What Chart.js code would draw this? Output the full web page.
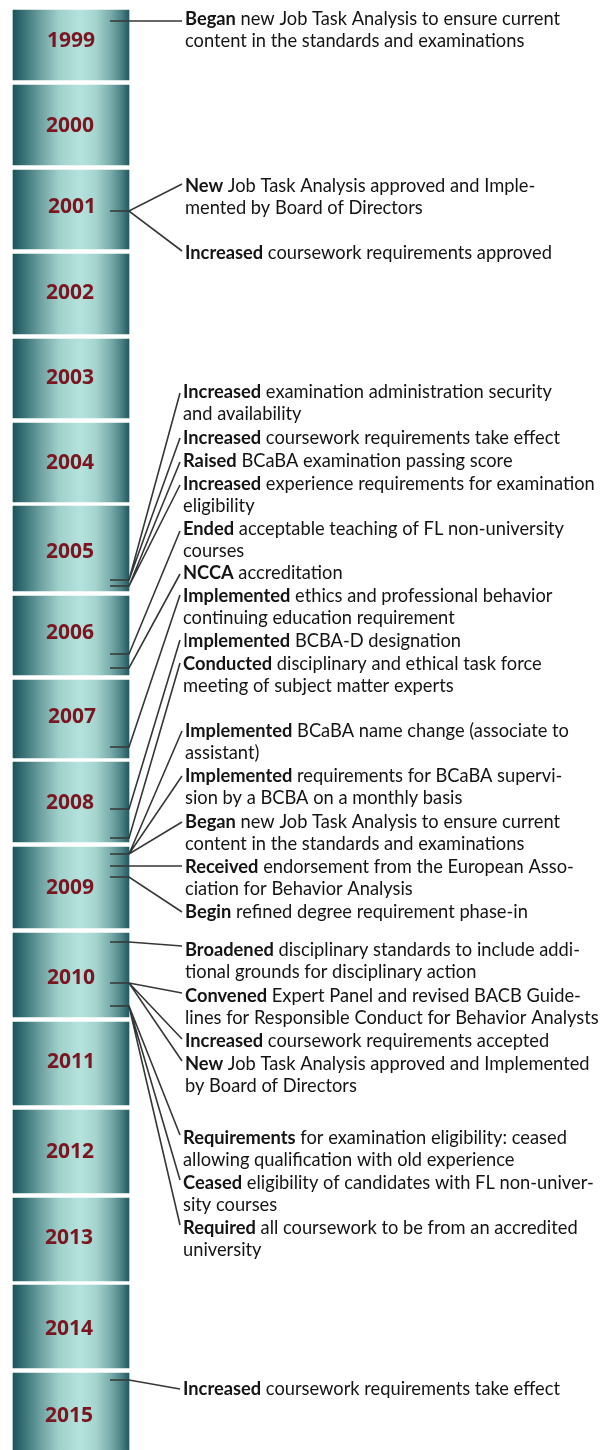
<!DOCTYPE html>
<html>
<head>
<meta charset="utf-8">
<script src="https://cdn.jsdelivr.net/npm/chart.js@4"></script>
<style>
  html, body { margin: 0; padding: 0; background: #fff; }
  #wrap { position: relative; width: 613px; height: 1450px; }
</style>
</head>
<body>
<div id="wrap"><canvas id="timeline"></canvas></div>
<script>
// years and the vertical extent of each year block (page units, 0 = top)
const years = ["1999","2000","2001","2002","2003","2004","2005","2006","2007","2008","2009","2010","2011","2012","2013","2014","2015"];
const boxTop    = [10, 85, 170, 254, 339, 423, 506, 596, 680, 762, 847, 933, 1022, 1110, 1198, 1285, 1373];
const boxBottom = [80, 165, 249, 334, 418, 502, 591, 675, 758, 842, 928, 1017, 1105, 1193, 1281, 1368, 1450];
const yearLabelY = [41, 126, 207, 293, 378, 463, 552, 633, 717, 803, 888, 978, 1062, 1152, 1238, 1329, 1416];
const yearLabelX = [71, 70, 72, 70, 70, 70, 70, 70, 72, 70, 70, 71, 71, 70, 69, 69, 69];

// events: regular prefix, bold lead word, then text lines
const eventPre  = ["", "", "", "", "", "", "", "", "", "", "I", "", "", "", "", "", "", "", "", "", "", "", "", "", ""];
const eventLead = ["Began", "New", "Increased", "Increased", "Increased", "Raised", "Increased", "Ended", "NCCA",
  "Implemented", "mplemented", "Conducted", "Implemented", "Implemented", "Began", "Received", "Begin",
  "Broadened", "Convened", "Increased", "New", "Requirements", "Ceased", "Required", "Increased"];
const eventLines = [
  [" new Job Task Analysis to ensure current", "content in the standards and examinations"],
  [" Job Task Analysis approved and Imple-", "mented by Board of Directors"],
  [" coursework requirements approved"],
  [" examination administration security", "and availability"],
  [" coursework requirements take effect"],
  [" BCaBA examination passing score"],
  [" experience requirements for examination", "eligibility"],
  [" acceptable teaching of FL non-university", "courses"],
  [" accreditation"],
  [" ethics and professional behavior", "continuing education requirement"],
  [" BCBA-D designation"],
  [" disciplinary and ethical task force", "meeting of subject matter experts"],
  [" BCaBA name change (associate to", "assistant)"],
  [" requirements for BCaBA supervi-", "sion by a BCBA on a monthly basis"],
  [" new Job Task Analysis to ensure current", "content in the standards and examinations"],
  [" endorsement from the European Asso-", "ciation for Behavior Analysis"],
  [" refined degree requirement phase-in"],
  [" disciplinary standards to include addi-", "tional grounds for disciplinary action"],
  [" Expert Panel and revised BACB Guide-", "lines for Responsible Conduct for Behavior Analysts"],
  [" coursework requirements accepted"],
  [" Job Task Analysis approved and Implemented", "by Board of Directors"],
  [" for examination eligibility: ceased", "allowing qualification with old experience"],
  [" eligibility of candidates with FL non-univer-", "sity courses"],
  [" all coursework to be from an accredited", "university"],
  [" coursework requirements take effect"]
];
const eventX    = [185, 185, 185, 183, 183, 183, 183, 183, 183, 183, 183, 183, 185, 185, 185, 185, 185, 185, 185, 185, 185, 183, 183, 183, 183];
const eventY    = [19, 186, 253, 392, 438, 461, 484, 529, 573, 596, 641, 664, 731, 776, 822, 867, 912, 950, 996, 1041, 1064, 1138, 1183, 1228, 1389];
// where each connector leaves the year block, and where it ends next to the text
const eventTickY = [21, 211, 211, 580, 580, 586, 586, 654, 668, 747, 809, 838, 854, 854, 854, 866, 877, 942, 983, 983, 983, 1006, 1006, 1006, 1380];
const eventEndY  = [21, 184, 251, 393, 438, 462, 485, 531, 574, 595, 640, 663, 731, 776, 822, 866, 912, 946, 993, 1039, 1061, 1135, 1180, 1225, 1389];

const BOX_LEFT = 13, BOX_RIGHT = 129, TICK_X = 110;
const LINE_STEP = 22.5;
const TEXT_FONT = "Lato";

const connectorPoints = [];
eventTickY.forEach((t, i) => {
  connectorPoints.push(
    { x: TICK_X, y: t },
    { x: BOX_RIGHT, y: t },
    { x: eventX[i] - 3, y: eventEndY[i] },
    { x: eventX[i], y: null }
  );
});

function boxGradient(context) {
  const chart = context.chart;
  if (!chart.chartArea) return "#7fb3b0";
  const xs = chart.scales.x;
  const x0 = xs.getPixelForValue(BOX_LEFT), x1 = xs.getPixelForValue(BOX_RIGHT);
  const g = chart.ctx.createLinearGradient(x0, 0, x1, 0);
  g.addColorStop(0, "#1a555c");
  g.addColorStop(0.1, "#3b7478");
  g.addColorStop(0.23, "#6b9e9f");
  g.addColorStop(0.4, "#a1d1cb");
  g.addColorStop(0.58, "#b5e2dc");
  g.addColorStop(0.71, "#a6d5cf");
  g.addColorStop(0.84, "#7aadac");
  g.addColorStop(0.94, "#4a7f83");
  g.addColorStop(1, "#215a60");
  return g;
}

let textSize = null;
function fitTextSize(ctx) {
  ctx.font = `bold 100px ${TEXT_FONT}`;
  const w1 = ctx.measureText("Increased").width;
  ctx.font = `100px ${TEXT_FONT}`;
  const w2 = ctx.measureText(" experience requirements for examination").width;
  return 100 * 412 / (w1 + w2);
}

const textPlugin = {
  id: "timelineText",
  afterDatasetsDraw(chart) {
    const { ctx, scales: { x, y } } = chart;
    ctx.save();
    ctx.textBaseline = "middle";

    // year labels
    ctx.fillStyle = "#7a1621";
    ctx.textAlign = "center";
    ctx.font = 'bold 21px "Open Sans"';
    years.forEach((yr, i) => {
      ctx.fillText(yr, x.getPixelForValue(yearLabelX[i]), y.getPixelForValue(yearLabelY[i]));
    });

    // event texts
    if (!textSize) textSize = fitTextSize(ctx);
    const reg = `${textSize}px ${TEXT_FONT}`, bold = `bold ${textSize}px ${TEXT_FONT}`;
    ctx.textAlign = "left";
    ctx.fillStyle = "#141414";
    eventLead.forEach((lead, i) => {
      let px = x.getPixelForValue(eventX[i]);
      const py = y.getPixelForValue(eventY[i]);
      if (eventPre[i]) {
        ctx.font = reg;
        ctx.fillText(eventPre[i], px, py);
        px += ctx.measureText(eventPre[i]).width;
      }
      ctx.font = bold;
      ctx.fillText(lead, px, py);
      px += ctx.measureText(lead).width;
      ctx.font = reg;
      eventLines[i].forEach((line, k) => {
        if (k === 0) ctx.fillText(line, px, py);
        else ctx.fillText(line, x.getPixelForValue(eventX[i]), y.getPixelForValue(eventY[i] + k * LINE_STEP));
      });
    });
    ctx.restore();
  }
};

new Chart(document.getElementById("timeline"), {
  type: "bar",
  data: {
    datasets: [
      {
        type: "line",
        data: connectorPoints,
        borderColor: "#363636",
        borderWidth: 1.6,
        pointRadius: 0,
        spanGaps: false,
        tension: 0,
        order: 0
      },
      {
        type: "bar",
        data: years.map((yr, i) => ({ x: (BOX_LEFT + BOX_RIGHT) / 2, y: [boxTop[i], boxBottom[i]] })),
        backgroundColor: boxGradient,
        borderWidth: 0,
        barThickness: BOX_RIGHT - BOX_LEFT,
        grouped: false,
        order: 1
      }
    ]
  },
  options: {
    responsive: true,
    maintainAspectRatio: false,
    animation: false,
    layout: { padding: 0 },
    plugins: { legend: { display: false }, tooltip: { enabled: false } },
    scales: {
      x: { type: "linear", min: 0, max: 613, offset: false, display: false },
      y: { type: "linear", min: 0, max: 1450, reverse: true, display: false }
    }
  },
  plugins: [textPlugin]
});
</script>
</body>
</html>
